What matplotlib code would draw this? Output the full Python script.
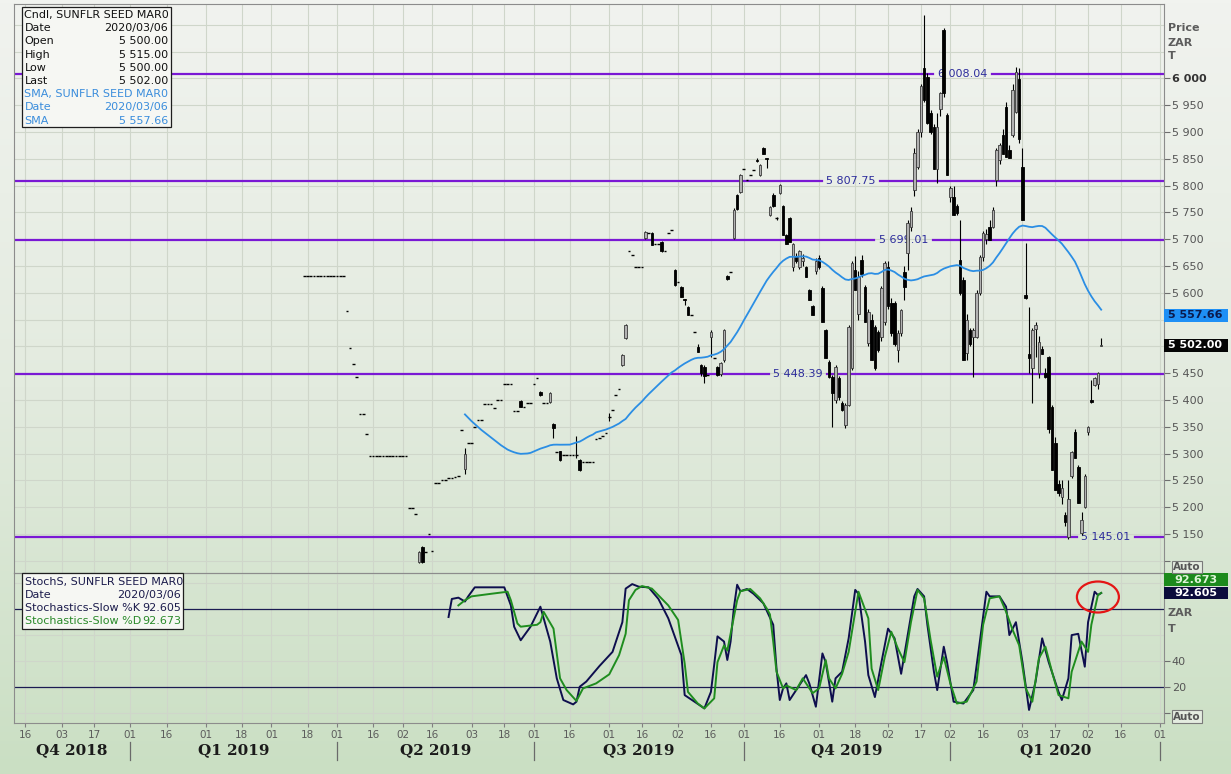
import numpy as np
import pandas as pd
import matplotlib
matplotlib.use('Agg')
import matplotlib.pyplot as plt
import matplotlib.transforms as mtrans
from matplotlib.patches import Rectangle, Ellipse
from matplotlib.lines import Line2D
from matplotlib.colors import LinearSegmentedColormap

W, H = 1231, 774

# ---------------------------------------------------------------- data
# exchange holidays inside the traded period (skipped on the day axis)
holidays = ['2019-03-21', '2019-04-19', '2019-04-22', '2019-05-01', '2019-05-08',
            '2019-06-17', '2019-08-09', '2019-09-24', '2019-12-16', '2019-12-25',
            '2019-12-26', '2020-01-01']
first_day = '2019-03-15'

opens = [
    5632, 5632, 5632, 5632, 5632, 5632, 5632, 5632, 5632, 5632,
    5632, 5632, 5632, 5566, 5496, 5467, 5443, 5374, 5374, 5336,
    5295, 5295, 5295, 5295, 5295, 5295, 5295, 5295, 5295, 5295,
    5295, 5295, 5198, 5198, 5188, 5098, 5126, 5117, 5149, 5119,
    5245, 5245, 5250, 5250, 5254, 5254, 5256, 5258, 5343, 5272,
    5319, 5319, 5349, 5363, 5363, 5392, 5392, 5392, 5385, 5400,
    5400, 5430, 5430, 5430, 5379, 5379, 5398, 5387, 5394, 5394,
    5430, 5440, 5414, 5394, 5394, 5396, 5355, 5302, 5304, 5298,
    5298, 5298, 5298, 5298, 5287, 5284, 5284, 5284, 5284, 5328,
    5329, 5333, 5338, 5368, 5381, 5410, 5420, 5465, 5515, 5678,
    5670, 5648, 5648, 5648, 5702, 5711, 5711, 5691, 5691, 5695,
    5678, 5711, 5717, 5643, 5620, 5611, 5588, 5574, 5559, 5527,
    5499, 5465, 5462, 5447, 5517, 5478, 5461, 5448, 5474, 5632,
    5639, 5702, 5783, 5788, 5831, 5811, 5820, 5829, 5848, 5820,
    5870, 5851, 5745, 5783, 5740, 5786, 5762, 5708, 5740, 5648,
    5668, 5648, 5660, 5648, 5605, 5575, 5640, 5665, 5609, 5530,
    5470, 5443, 5400, 5440, 5394, 5353, 5390, 5459, 5643, 5560,
    5662, 5611, 5506, 5549, 5536, 5526, 5518, 5546, 5648, 5581,
    5580, 5493, 5525, 5639, 5674, 5722, 5792, 5835, 5899, 6020,
    6003, 5936, 5910, 5830, 5942, 6091, 5932, 5779, 5779, 5761,
    5661, 5624, 5487, 5530, 5518, 5518, 5600, 5667, 5700, 5723,
    5723, 5810, 5848, 5895, 5947, 5867, 5895, 5938, 5998, 5835,
    5595, 5485, 5460, 5533, 5450, 5495, 5450, 5480, 5386, 5319,
    5244, 5218, 5185, 5145, 5259, 5340, 5274, 5151, 5200, 5340,
    5400, 5428, 5430, 5500]
highs = [
    5632, 5632, 5632, 5632, 5632, 5632, 5632, 5632, 5632, 5632,
    5632, 5632, 5632, 5566, 5496, 5467, 5443, 5374, 5374, 5336,
    5295, 5295, 5295, 5295, 5295, 5295, 5295, 5295, 5295, 5295,
    5295, 5295, 5198, 5198, 5188, 5118, 5128, 5117, 5149, 5119,
    5245, 5245, 5250, 5250, 5254, 5254, 5256, 5258, 5343, 5310,
    5319, 5319, 5349, 5363, 5363, 5392, 5392, 5392, 5385, 5400,
    5400, 5430, 5430, 5430, 5379, 5379, 5400, 5387, 5394, 5394,
    5430, 5440, 5416, 5394, 5394, 5414, 5357, 5302, 5305, 5298,
    5298, 5298, 5298, 5332, 5290, 5284, 5284, 5284, 5284, 5328,
    5329, 5333, 5338, 5376, 5381, 5410, 5420, 5486, 5542, 5678,
    5670, 5648, 5648, 5648, 5715, 5711, 5713, 5691, 5691, 5697,
    5678, 5711, 5717, 5645, 5620, 5612, 5588, 5576, 5559, 5527,
    5505, 5467, 5466, 5447, 5530, 5478, 5463, 5470, 5532, 5634,
    5639, 5758, 5785, 5822, 5831, 5811, 5820, 5829, 5852, 5840,
    5872, 5851, 5762, 5786, 5742, 5803, 5764, 5710, 5742, 5692,
    5675, 5680, 5672, 5650, 5607, 5577, 5665, 5670, 5612, 5532,
    5475, 5446, 5465, 5445, 5398, 5395, 5540, 5660, 5668, 5640,
    5670, 5615, 5570, 5560, 5540, 5530, 5612, 5660, 5660, 5590,
    5585, 5530, 5570, 5650, 5735, 5760, 5870, 5905, 5990, 6119,
    6010, 5940, 5915, 5935, 5975, 6093, 5935, 5800, 5800, 5765,
    5736, 5630, 5560, 5535, 5535, 5605, 5670, 5715, 5718, 5735,
    5760, 5870, 5880, 5905, 5955, 5875, 5990, 6022, 6020, 5870,
    5693, 5573, 5535, 5545, 5520, 5500, 5460, 5482, 5390, 5330,
    5250, 5250, 5190, 5250, 5305, 5345, 5278, 5190, 5262, 5352,
    5437, 5443, 5452, 5515]
lows = [
    5632, 5632, 5632, 5632, 5632, 5632, 5632, 5632, 5632, 5632,
    5632, 5632, 5632, 5566, 5496, 5467, 5443, 5374, 5374, 5336,
    5295, 5295, 5295, 5295, 5295, 5295, 5295, 5295, 5295, 5295,
    5295, 5295, 5198, 5198, 5188, 5095, 5096, 5117, 5149, 5119,
    5245, 5245, 5250, 5250, 5254, 5254, 5256, 5258, 5343, 5262,
    5319, 5319, 5349, 5363, 5363, 5392, 5392, 5392, 5385, 5400,
    5400, 5430, 5430, 5430, 5379, 5379, 5387, 5387, 5394, 5394,
    5430, 5440, 5407, 5394, 5394, 5394, 5329, 5302, 5286, 5298,
    5298, 5298, 5298, 5292, 5268, 5284, 5284, 5284, 5284, 5328,
    5329, 5333, 5338, 5360, 5381, 5410, 5420, 5463, 5513, 5678,
    5670, 5648, 5648, 5648, 5700, 5711, 5689, 5691, 5691, 5676,
    5678, 5711, 5717, 5613, 5620, 5592, 5578, 5559, 5559, 5527,
    5489, 5445, 5431, 5447, 5480, 5478, 5444, 5445, 5470, 5624,
    5639, 5700, 5755, 5786, 5831, 5811, 5820, 5829, 5843, 5818,
    5859, 5833, 5743, 5760, 5735, 5784, 5708, 5690, 5695, 5640,
    5655, 5645, 5650, 5630, 5587, 5558, 5635, 5645, 5546, 5478,
    5440, 5350, 5395, 5400, 5380, 5348, 5388, 5455, 5605, 5550,
    5630, 5546, 5500, 5474, 5456, 5490, 5510, 5540, 5570, 5520,
    5500, 5470, 5520, 5587, 5643, 5715, 5780, 5830, 5890, 5955,
    5915, 5897, 5830, 5805, 5930, 5965, 5820, 5770, 5745, 5745,
    5595, 5474, 5475, 5500, 5443, 5515, 5595, 5660, 5690, 5699,
    5720, 5800, 5840, 5858, 5853, 5852, 5890, 5935, 5880, 5736,
    5588, 5450, 5395, 5480, 5440, 5486, 5440, 5338, 5269, 5232,
    5220, 5205, 5165, 5140, 5255, 5292, 5207, 5148, 5198, 5335,
    5394, 5426, 5420, 5500]
closes = [
    5632, 5632, 5632, 5632, 5632, 5632, 5632, 5632, 5632, 5632,
    5632, 5632, 5632, 5566, 5496, 5467, 5443, 5374, 5374, 5336,
    5295, 5295, 5295, 5295, 5295, 5295, 5295, 5295, 5295, 5295,
    5295, 5295, 5198, 5198, 5188, 5116, 5098, 5117, 5149, 5119,
    5245, 5245, 5250, 5250, 5254, 5254, 5256, 5258, 5343, 5300,
    5319, 5319, 5349, 5363, 5363, 5392, 5392, 5392, 5385, 5400,
    5400, 5430, 5430, 5430, 5379, 5379, 5387, 5387, 5394, 5394,
    5430, 5440, 5409, 5394, 5394, 5412, 5347, 5302, 5287, 5298,
    5298, 5298, 5298, 5298, 5270, 5284, 5284, 5284, 5284, 5328,
    5329, 5333, 5338, 5368, 5381, 5410, 5420, 5484, 5540, 5678,
    5670, 5648, 5648, 5648, 5713, 5711, 5689, 5691, 5691, 5678,
    5678, 5711, 5717, 5615, 5620, 5592, 5586, 5559, 5559, 5527,
    5489, 5450, 5445, 5447, 5527, 5478, 5446, 5468, 5530, 5625,
    5639, 5755, 5757, 5820, 5831, 5811, 5820, 5829, 5845, 5838,
    5859, 5850, 5760, 5762, 5740, 5801, 5708, 5690, 5695, 5690,
    5660, 5678, 5665, 5630, 5587, 5558, 5660, 5648, 5546, 5478,
    5443, 5413, 5461, 5405, 5381, 5390, 5536, 5656, 5605, 5630,
    5635, 5546, 5564, 5474, 5460, 5494, 5609, 5656, 5575, 5525,
    5505, 5525, 5568, 5611, 5730, 5753, 5861, 5899, 5985, 5960,
    5917, 5899, 5830, 5910, 5973, 5973, 5820, 5796, 5745, 5748,
    5600, 5474, 5549, 5505, 5530, 5600, 5667, 5712, 5710, 5699,
    5755, 5866, 5876, 5858, 5853, 5852, 5979, 6012, 5886, 5736,
    5590, 5478, 5530, 5540, 5508, 5486, 5443, 5345, 5269, 5232,
    5226, 5235, 5172, 5216, 5302, 5292, 5207, 5176, 5259, 5350,
    5396, 5441, 5450, 5502]

sma_days = 50
sma_last = 5557.66

# stochastics-slow read at its turning points: day number in the series, value
k_day = [44, 45, 47, 49, 50, 52, 61, 63, 64, 66, 69, 72, 73, 75, 77, 79, 82, 83, 84, 86,
         90, 94, 97, 98, 100, 102, 105, 108, 111, 115, 116, 119, 122, 124, 125, 126, 128,
         129, 130, 131, 132, 133, 135, 137, 140, 143, 144, 145, 146, 147, 148, 150, 153,
         154, 156, 158, 159, 161, 162, 164, 166, 168, 169, 171, 172, 174, 176, 178, 180,
         182, 184, 186, 187, 189, 190, 192, 193, 195, 196, 198, 201, 204, 206, 208, 209,
         212, 214, 215, 217, 219, 221, 223, 225, 227, 230, 231, 233, 234, 236, 238, 239,
         241, 242, 243]
k_val = [74, 88, 89, 86, 90, 97, 97, 83, 66.5, 56, 66.5, 82, 73, 55, 26.5, 9.7, 6.3, 8.4,
         20, 24, 36, 47, 70, 96, 99.5, 97.5, 97, 88, 73, 44.5, 13.5, 8.4, 3.2, 16, 37, 59,
         55, 40.7, 55, 81, 99, 94, 95.7, 92, 84.6, 68, 34, 9.7, 18.7, 22.6, 9.7, 17.4, 29,
         22.6, 4.5, 45.8, 39, 8.4, 26.5, 31.6, 57.5, 95, 92, 55, 29, 12, 39, 65, 57.5, 30,
         60, 90, 95.7, 90, 68, 31.6, 17.4, 51, 39, 8.4, 7, 17.4, 55, 93.6, 90, 90, 82, 60,
         70, 39, 2, 24, 57.5, 39, 16, 9.7, 26.5, 60, 61, 35.5, 70, 93.6, 91, 92.605]
d_day = [47, 49, 51, 57, 62, 63, 65, 66, 71, 72, 73, 76, 78, 80, 83, 85, 89, 93, 96, 98,
         99, 101, 103, 106, 111, 114, 116, 117, 120, 122, 125, 126, 128, 129, 130, 132,
         133, 136, 139, 141, 142, 143, 144, 146, 147, 150, 152, 155, 157, 159, 160, 162,
         164, 166, 169, 172, 173, 175, 177, 179, 181, 183, 185, 187, 189, 191, 193, 195,
         197, 199, 202, 205, 207, 209, 212, 214, 216, 218, 220, 222, 224, 226, 228, 230,
         233, 234, 237, 239, 240, 242, 243]
d_val = [83, 87, 90, 92, 93.6, 87, 69, 66.5, 68, 70, 78, 65, 26.5, 17.4, 9, 18.7, 22.6,
         29.6, 44.5, 61, 87, 95, 98, 96, 83, 71.7, 38, 16, 7, 3.2, 11, 39, 52, 48, 61, 87,
         94, 95.7, 88.5, 80.7, 76, 55, 31.6, 18.7, 21, 17.4, 26.5, 15, 18.7, 40.7, 26.5,
         18.7, 30, 47, 93.6, 73, 34, 17.4, 43, 62.6, 49.7, 39, 70, 95, 88.5, 56, 27.8, 43,
         22.6, 7, 8.4, 24, 68, 88.5, 90, 78, 64, 52, 18.7, 8.4, 42, 51, 31.6, 13.5, 11,
         31.6, 55, 47, 68, 91, 92.673]

levels = [6008.04, 5807.75, 5699.01, 5448.39, 5145.01]
level_label_x = [0.825, 0.728, 0.774, 0.682, 0.950]   # axes fraction of each label

tick_dates = ['2018-11-16', '2018-12-03', '2018-12-17', '2019-01-01', '2019-01-16',
              '2019-02-01', '2019-02-18', '2019-03-01', '2019-03-18', '2019-04-01',
              '2019-04-16', '2019-05-02', '2019-05-16', '2019-06-03', '2019-06-18',
              '2019-07-01', '2019-07-16', '2019-08-01', '2019-08-16', '2019-09-02',
              '2019-09-16', '2019-10-01', '2019-10-16', '2019-11-01', '2019-11-18',
              '2019-12-02', '2019-12-17', '2020-01-02', '2020-01-16', '2020-02-03',
              '2020-02-17', '2020-03-02', '2020-03-16', '2020-04-01']
quarter_starts = ['2019-01-01', '2019-04-01', '2019-07-01', '2019-10-01', '2020-01-02',
                  '2020-04-01']
quarter_names = ['Q4 2018', 'Q1 2019', 'Q2 2019', 'Q3 2019', 'Q4 2019', 'Q1 2020']
view_start, view_end = '2018-11-13', '2020-04-02'


def day_pos(dates):
    d = np.array(dates, dtype='datetime64[D]')
    return np.busday_count(np.datetime64('2019-04-01'), d, holidays=holidays).astype(float)


def fmt_price(v):
    return f"{v:,.2f}".replace(',', ' ')


o = np.array(opens, float)
hi = np.array(highs, float)
lo = np.array(lows, float)
c = np.array(closes, float)
dates = np.busday_offset(first_day, np.arange(len(c)), holidays=holidays)
x = day_pos(dates)
sma = pd.Series(c).rolling(sma_days).mean().values

# ---------------------------------------------------------------- figure
fig = plt.figure(figsize=(W / 100, H / 100), dpi=100)

bg = fig.add_axes([0, 0, 1, 1], zorder=-10)
grad = np.linspace(0, 1, 256)[:, None]
cmap = LinearSegmentedColormap.from_list('bg', ['#f1f3ef', '#e3ebdf', '#cadfc3'])
bg.imshow(grad, aspect='auto', cmap=cmap, extent=[0, 1, 0, 1])
bg.axis('off')

ax = fig.add_axes([14 / W, 1 - 573 / H, 1149.5 / W, 569 / H])
st = fig.add_axes([14 / W, 1 - 723 / H, 1149.5 / W, 150 / H], sharex=ax)
for a in (ax, st):
    a.set_facecolor('none')
    for s in a.spines.values():
        s.set_color('#8c8c8c')
        s.set_linewidth(0.8)

xmin = day_pos([view_start])[0] - 0.5
xmax = day_pos([view_end])[0]
ax.set_xlim(xmin, xmax)
ax.set_ylim(5077.1, 6138.7)
st.set_ylim(-8.1, 108.1)

tick_x = day_pos(tick_dates)
grid_c = '#cfd6ca'
for tx in tick_x:
    ax.axvline(tx, color=grid_c, lw=0.8, zorder=0)
    st.axvline(tx, color=grid_c, lw=0.8, zorder=0)
for yv in range(5100, 6101, 50):
    ax.axhline(yv, color=grid_c, lw=0.8, zorder=0)
for yv in (0, 40, 60, 100):
    st.axhline(yv, color=grid_c, lw=0.8, zorder=0)

# support / resistance levels with their labels sitting in a gap of the line
ybl = mtrans.blended_transform_factory(ax.transAxes, ax.transData)
gap = 0.0255
for lev, lx in zip(levels, level_label_x):
    ax.axhline(lev, xmin=0, xmax=lx - gap, color='#7a18d4', lw=1.6, zorder=2)
    ax.axhline(lev, xmin=lx + gap, xmax=1, color='#7a18d4', lw=1.6, zorder=2)
    ax.text(lx, lev, fmt_price(lev), transform=ybl, ha='center', va='center',
            fontsize=8, color='#2d2d9c', zorder=2)

# candles
up = c > o
down = c < o
flat = c == o
has_wick = hi > lo
ax.vlines(x[has_wick], lo[has_wick], hi[has_wick], color='black', lw=0.8, zorder=3)
ax.bar(x[up], (c - o)[up], bottom=o[up], width=0.78, color='#b2b2b2',
       edgecolor='#3c3c3c', linewidth=0.6, zorder=4)
ax.bar(x[down], (o - c)[down], bottom=c[down], width=0.78, color='black',
       edgecolor='black', linewidth=0.6, zorder=4)
ax.hlines(c[flat], x[flat] - 0.4, x[flat] + 0.4, color='black', lw=1.0, zorder=4)

ax.plot(x, sma, color='#2b8ee4', lw=1.3, zorder=5)

# price axis on the right (labels under the value boxes are left out)
ax.yaxis.tick_right()
yt = list(range(5100, 6001, 50))
hidden = (5100, 5500, 5550)
ax.set_yticks(yt)
ax.set_yticklabels(['' if v in hidden else f"{v:,}".replace(',', ' ') for v in yt])
ax.tick_params(axis='y', length=4, width=0.8, color='#6e6e6e', pad=2,
               labelsize=8, labelcolor='#555555')
for lab in ax.get_yticklabels():
    if lab.get_text() == '6 000':
        lab.set_fontweight('bold')
        lab.set_color('#333333')
ax.tick_params(axis='x', length=0, labelbottom=False)


# value boxes on the right edge
def right_box(axis, value, text, fc, tc, half, shift=0.0):
    tr = mtrans.blended_transform_factory(axis.transAxes, axis.transData)
    w = 64 / 1149.5
    axis.add_patch(Rectangle((1.0, value + shift - half), w, 2 * half, transform=tr,
                             fc=fc, ec='none', clip_on=False, zorder=10))
    axis.text(1.0 + w / 2, value + shift, text, transform=tr, ha='center', va='center',
              fontsize=8, fontweight='bold', color=tc, clip_on=False, zorder=11)


right_box(ax, sma_last, fmt_price(sma_last), '#1e8ff5', '#0b1a4c', 12.0)
right_box(ax, c[-1], fmt_price(c[-1]), '#050505', 'white', 12.0)

# stochastics panel
st.axhline(80, color='#1b1b52', lw=0.9, zorder=2)
st.axhline(20, color='#1b1b52', lw=0.9, zorder=2)
st.plot(x[k_day], k_val, color='#0e0e4e', lw=1.4, zorder=4)
st.plot(x[d_day], d_val, color='#1f8d1f', lw=1.4, zorder=5)
st.add_patch(Ellipse((x[-1] - 1.0, 89.5), 12.8, 24, fill=False, ec='#e41515', lw=1.6,
                     zorder=6, clip_on=False))

st.yaxis.tick_right()
st.set_yticks([0, 20, 40])
st.set_yticklabels(['', '20', '40'])
st.tick_params(axis='y', length=4, width=0.8, color='#6e6e6e', pad=2,
               labelsize=8, labelcolor='#555555')
right_box(st, d_val[-1], f"{d_val[-1]:.3f}", '#1c8a1c', '#dff5d8', 5.0, shift=10.3)
right_box(st, k_val[-1], f"{k_val[-1]:.3f}", '#0b0b3c', 'white', 5.0)

st.set_xticks(tick_x)
st.set_xticklabels([d[-2:] for d in tick_dates])
st.tick_params(axis='x', direction='out', length=3, width=0.8, color='#808080', pad=2,
               labelsize=7.5, labelcolor='#5c5c5c')

# quarter row
xbl = mtrans.blended_transform_factory(st.transData, st.transAxes)
q_x = day_pos(quarter_starts)
edges = np.concatenate([[xmin], q_x])
for i, name in enumerate(quarter_names):
    st.text((edges[i] + edges[i + 1]) / 2, -0.18, name, transform=xbl, ha='center',
            va='center', fontsize=11, fontweight='bold', family='DejaVu Serif',
            color='#1a1a1a')
for qx in q_x:
    st.add_line(Line2D([qx, qx], [-0.125, -0.245], transform=xbl, color='#6a6a6a',
                       lw=0.9, clip_on=False))


# right-hand captions
def ftext(px, py, s, **kw):
    fig.text(px / W, 1 - py / H, s, va='center', **kw)


for py, s in ((28, 'Price'), (42.5, 'ZAR'), (56, 'T'), (612.5, 'ZAR'), (629, 'T')):
    ftext(1168, py, s, fontsize=8, fontweight='bold', color='#5c5c5c')
for py in (567, 716.5):
    fig.text(1187 / W, 1 - py / H, 'Auto', ha='center', va='center', fontsize=7.5,
             fontweight='bold', color='#555555',
             bbox=dict(boxstyle='square,pad=0.12', fc='#e4ece0', ec='#7a7a7a', lw=0.8))


# info boxes
def info_box(x0, y0, x1, y1):
    fig.add_artist(Rectangle((x0 / W, 1 - y1 / H), (x1 - x0) / W, (y1 - y0) / H,
                             transform=fig.transFigure, fc='#f6f7f3', ec='#1e1e1e',
                             lw=0.9, zorder=20))


info_box(22, 7, 171, 127)
black, blue = '#111111', '#3a8ddc'
rows = [('Cndl, SUNFLR SEED MAR0', '', black),
        ('Date', '2020/03/06', black),
        ('Open', fmt_price(o[-1]), black),
        ('High', fmt_price(hi[-1]), black),
        ('Low', fmt_price(lo[-1]), black),
        ('Last', fmt_price(c[-1]), black),
        ('SMA, SUNFLR SEED MAR0', '', blue),
        ('Date', '2020/03/06', blue),
        ('SMA', fmt_price(sma_last), blue)]
for i, (left, right, col) in enumerate(rows):
    py = 15 + i * 13.2
    ftext(24.5, py, left, fontsize=8, color=col, zorder=21)
    if right:
        ftext(168, py, right, fontsize=8, color=col, ha='right', zorder=21)

info_box(22, 573, 183, 629)
navy, green = '#1c1c4c', '#2a8a2a'
rows = [('StochS, SUNFLR SEED MAR0', '', navy),
        ('Date', '2020/03/06', navy),
        ('Stochastics-Slow %K', f"{k_val[-1]:.3f}", navy),
        ('Stochastics-Slow %D', f"{d_val[-1]:.3f}", green)]
for i, (left, right, col) in enumerate(rows):
    py = 581.5 + i * 13.2
    ftext(25, py, left, fontsize=8, color=col, zorder=21)
    if right:
        ftext(181, py, right, fontsize=8, color=col, ha='right', zorder=21)

fig.savefig('out.png', dpi=100)
